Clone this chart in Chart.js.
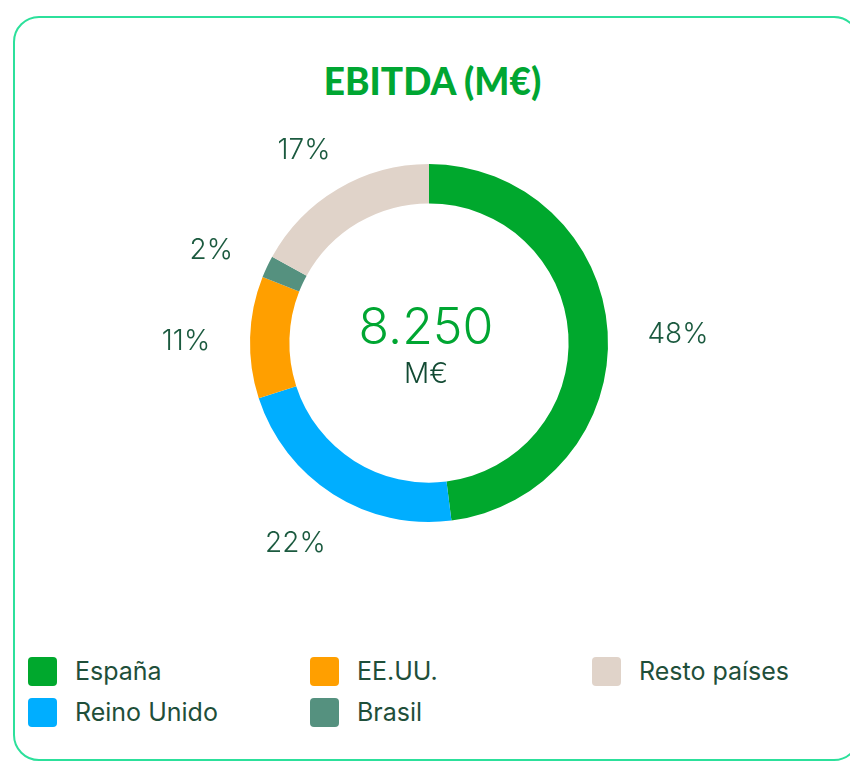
<!DOCTYPE html>
<html>
<head>
<meta charset="utf-8">
<script src="https://cdn.jsdelivr.net/npm/chart.js@4/dist/chart.umd.min.js"></script>
<style>
  html, body { margin: 0; padding: 0; background: #fff; width: 850px; height: 763px; overflow: hidden; }
  body { position: relative; font-family: Inter, "Noto Sans", sans-serif; }
  .card { position: absolute; left: 13px; top: 16px; width: 847px; height: 745px; box-sizing: border-box;
          border: 2px solid #2ce09b; border-radius: 26px; }
  .titulo { position: absolute; left: 0; width: 865px; top: 58px; text-align: center;
            font-family: Lato, sans-serif; font-weight: 900; font-size: 37px; color: #00a632; }
  .grafico { position: absolute; left: 149px; top: 63px; width: 560px; height: 560px; }
  .leyenda { position: absolute; left: 28px; top: 656px; display: grid; grid-auto-flow: column;
             grid-template-rows: repeat(2, 41px); grid-template-columns: repeat(3, 282px); }
  .item { display: flex; align-items: center; height: 30px; font-size: 25px; color: #1f4f3a; font-weight: 400; }
  .item span.caja { width: 29px; height: 29px; border-radius: 4px; margin-right: 18px; flex: none; }
</style>
</head>
<body>
<div class="card"></div>
<div class="titulo" id="titulo"></div>
<div class="grafico"><canvas id="chart"></canvas></div>
<div class="leyenda" id="leyenda"></div>
<script>
// Datos
const titulo = 'EBITDA (M€)';
const regiones = ['España', 'Reino Unido', 'EE.UU.', 'Brasil', 'Resto países'];
const porcentajes = [48, 22, 11, 2, 17];
const totalEbitda = '8.250';
const unidad = 'M€';

const colores = ['#00a82d', '#00aeff', '#ff9f00', '#55917f', '#e0d3c9'];

document.getElementById('titulo').textContent = titulo;

// Leyenda en columnas de dos filas
const leyenda = document.getElementById('leyenda');
regiones.forEach(function(r, i){
  const it = document.createElement('div');
  it.className = 'item';
  const caja = document.createElement('span');
  caja.className = 'caja';
  caja.style.background = colores[i];
  it.appendChild(caja);
  it.appendChild(document.createTextNode(r));
  leyenda.appendChild(it);
});

// Etiquetas de porcentaje y texto central
const etiquetas = {
  id: 'etiquetas',
  afterDraw(chart) {
    const ctx = chart.ctx;
    const meta = chart.getDatasetMeta(0);
    ctx.save();
    ctx.font = '300 28px Inter, "Noto Sans", sans-serif';
    ctx.fillStyle = '#1b5a3f';
    ctx.textAlign = 'center';
    ctx.textBaseline = 'middle';
    meta.data.forEach(function(arc, i){
      const p = arc.getProps(['x', 'y', 'startAngle', 'endAngle', 'outerRadius'], true);
      const a = (p.startAngle + p.endAngle) / 2;
      const txt = porcentajes[i] + '%';
      const w = ctx.measureText(txt).width;
      const r = p.outerRadius + 40;
      const x = p.x + Math.cos(a) * (r + w / 2);
      const y = p.y + Math.sin(a) * (r + 12) + 6;
      ctx.fillText(txt, x, y);
    });
    const c = meta.data[0];
    ctx.fillStyle = '#00a632';
    ctx.font = '300 50px Inter, "Noto Sans", sans-serif';
    ctx.fillText(totalEbitda, c.x - 3, c.y - 14);
    ctx.fillStyle = '#124a33';
    ctx.font = '300 28px Inter, "Noto Sans", sans-serif';
    ctx.fillText(unidad, c.x - 3, c.y + 32);
    ctx.restore();
  }
};

const config = {
  type: 'doughnut',
  data: {
    labels: regiones,
    datasets: [{
      data: porcentajes,
      backgroundColor: colores,
      borderWidth: 0
    }]
  },
  options: {
    responsive: true,
    maintainAspectRatio: false,
    animation: false,
    cutout: '78%',
    layout: { padding: 101 },
    plugins: {
      legend: { display: false },
      tooltip: { enabled: false }
    }
  },
  plugins: [etiquetas]
};

const ctx = document.getElementById('chart').getContext('2d');
window.dona = new Chart(ctx, config);
</script>
</body>
</html>
